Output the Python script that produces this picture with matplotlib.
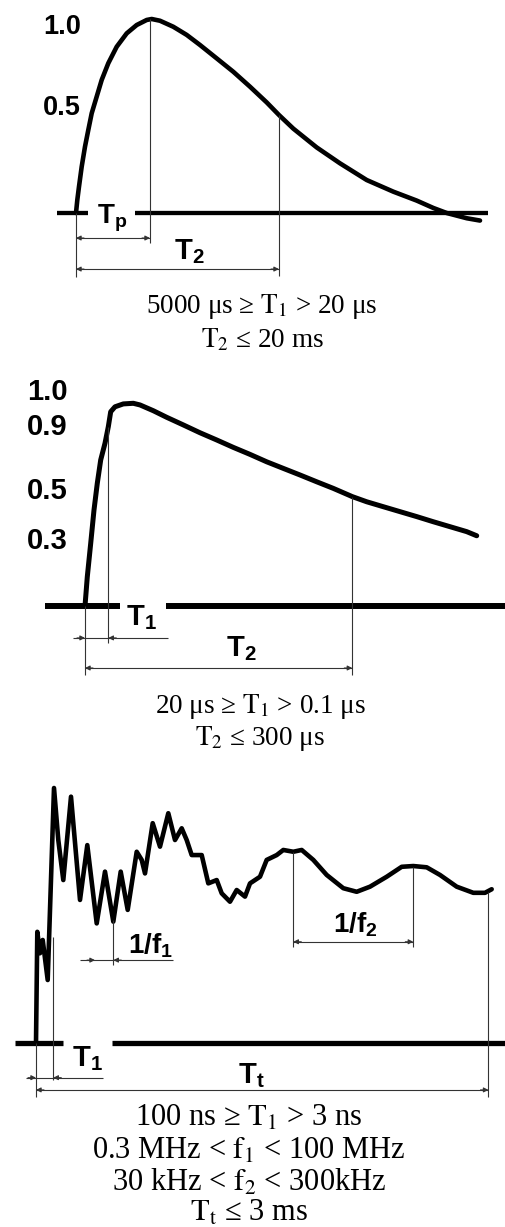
import matplotlib
matplotlib.use("Agg")
import matplotlib.pyplot as plt

plt.rcParams['mathtext.fontset'] = 'custom'
plt.rcParams['mathtext.rm'] = 'Liberation Sans:bold'
plt.rcParams['mathtext.it'] = 'Liberation Sans:bold'
plt.rcParams['mathtext.bf'] = 'Liberation Sans:bold'

# ---------------- data (time in arbitrary units, amplitude normalised) -------------
# Panel 1: double-exponential type pulse
t1 = [0, 1.3, 3, 5.7, 9, 12.3, 15.7, 20.7, 25.7, 32.3, 40.7, 50.7, 60.7, 70.7, 75.7,
      84, 97.3, 110.7, 124, 140.7, 157.3, 174, 190.7, 203, 217.3, 240.7, 264, 290.7,
      317.3, 340.7, 357.3, 370.7, 390.7, 404]
a1 = [0, 0.067, 0.136, 0.239, 0.342, 0.428, 0.514, 0.600, 0.686, 0.772, 0.857, 0.926,
      0.969, 0.995, 1.0, 0.991, 0.960, 0.918, 0.866, 0.797, 0.728, 0.651, 0.570, 0.505,
      0.435, 0.338, 0.256, 0.170, 0.110, 0.064, 0.026, 0.0, -0.027, -0.039]
labels1 = ["1.0", "0.5"]
label_levels1 = [0.96, 0.541]
Tp_1, T2_1 = 74, 203
captions1 = ["5000 μs ≥ $\\mathrm{T}_1$ > 20 μs", "$\\mathrm{T}_2$ ≤ 20 ms"]

# Panel 2: fast-rise exponential decay
t2 = [0, 2.3, 5.7, 9, 12.3, 15.7, 20, 23.3, 25.7, 30, 38.3, 48.3, 55, 68.3, 81.7, 98.3,
      115, 131.7, 148.3, 165, 181.7, 198.3, 215, 231.7, 248.3, 267.3, 281.7, 298.3, 315,
      331.7, 348.3, 365, 381.7, 391.7]
a2 = [0, 0.142, 0.304, 0.466, 0.596, 0.709, 0.790, 0.870, 0.943, 0.967, 0.981, 0.984,
      0.976, 0.948, 0.916, 0.879, 0.841, 0.806, 0.770, 0.736, 0.700, 0.668, 0.636, 0.603,
      0.571, 0.531, 0.506, 0.482, 0.458, 0.434, 0.409, 0.385, 0.361, 0.341]
labels2 = ["1.0", "0.9", "0.5", "0.3"]
label_levels2 = [1.039, 0.869, 0.558, 0.316]
T1_2, T2_2 = 23.3, 267.3
captions2 = ["20 μs ≥ $\\mathrm{T}_1$ > 0.1 μs", "$\\mathrm{T}_2$ ≤ 300 μs"]

# Panel 3: oscillatory transient
t3 = [0, 1.3, 4, 6.7, 11.7, 18, 22.3, 27.3, 35, 44, 51.3, 60.7, 69, 77.3, 84.7, 91.7,
      100.7, 105.7, 109, 116.7, 124, 132.3, 139, 145.7, 150.7, 155.7, 165.7, 172.3,
      180.7, 185.7, 194, 200.7, 209, 214, 224, 230.7, 240.7, 247.3, 257.3, 265.7, 277.3,
      290.7, 307.3, 320.7, 334, 350.7, 365.7, 377.3, 390.7, 404, 420.7, 437.3, 449, 455.7]
a3 = [0, 0.436, 0.352, 0.404, 0.247, 1.0, 0.796, 0.639, 0.966, 0.561, 0.776, 0.469,
      0.672, 0.476, 0.672, 0.522, 0.750, 0.718, 0.665, 0.862, 0.770, 0.901, 0.796, 0.842,
      0.796, 0.737, 0.737, 0.626, 0.639, 0.587, 0.554, 0.600, 0.574, 0.626, 0.652, 0.718,
      0.737, 0.757, 0.750, 0.757, 0.718, 0.659, 0.607, 0.593, 0.613, 0.652, 0.691, 0.694,
      0.689, 0.659, 0.613, 0.589, 0.589, 0.603]
T1_3, Tt_3 = 17.3, 452.5
f1_a, f1_b = 59, 77.3
f2_a, f2_b = 257.3, 377.3
captions3 = ["100 ns ≥ $\\mathrm{T}_1$ > 3 ns",
             "0.3 MHz < $\\mathrm{f}_1$ < 100 MHz",
             "30 kHz < $\\mathrm{f}_2$ < 300kHz",
             "$\\mathrm{T}_\\mathrm{t}$ ≤ 3 ms"]

# ---------------- drawing ------------------------------------------------------------
W, H = 506, 1227
fig = plt.figure(figsize=(W / 100, H / 100), dpi=100)
fig.patch.set_facecolor('white')
THIN = '#333333'
TLW = 0.8


def panel(name, x0, y0, sx, sy):
    ax = fig.add_axes([0, 0, 1, 1], facecolor='none', label=name)
    ax.set_xlim(-x0 / sx, (W - x0) / sx)
    ax.set_ylim((y0 - H) / sy, y0 / sy)
    ax.axis('off')
    return ax


def seg(ax, xs, ys, lw=TLW, color=THIN):
    ax.plot(xs, ys, color=color, lw=lw, solid_capstyle='butt')


def head(ax, tip, a, direction):
    ax.annotate('', xy=(tip, a), xytext=(tip - direction * 8, a),
                arrowprops=dict(arrowstyle='-|>', color=THIN, lw=TLW,
                                mutation_scale=7, shrinkA=0, shrinkB=0))


def label(ax, x, y, s, size=20):
    ax.text(x, y, s, ha='center', va='center', fontsize=size,
            family='Liberation Sans', fontweight='bold', math_fontfamily='custom')


def caption(lines, ys, xc, size=19.5):
    for s, y in zip(lines, ys):
        fig.text(xc / W, 1 - y / H, s, ha='center', va='baseline', fontsize=size,
                 family='Liberation Serif', math_fontfamily='stix')


# ---- Panel 1
ax = panel('p1', 76, 213, 1.0, 194.0)
seg(ax, [-19, 12], [0, 0], lw=3.1, color='black')
seg(ax, [59, 412], [0, 0], lw=3.1, color='black')
ax.plot(t1, a1, color='black', lw=3.3, solid_joinstyle='round', solid_capstyle='round')
seg(ax, [Tp_1, Tp_1], [1.0, -0.155])
seg(ax, [T2_1, T2_1], [a1[t1.index(T2_1)], -0.325])
seg(ax, [0, 0], [0, -0.33])
seg(ax, [0, Tp_1], [-0.129, -0.129])
head(ax, 0, -0.129, -1)
head(ax, Tp_1, -0.129, 1)
seg(ax, [0, T2_1], [-0.289, -0.289])
head(ax, 0, -0.289, -1)
head(ax, T2_1, -0.289, 1)
for s, lv in zip(labels1, label_levels1):
    label(ax, -14, lv, s, size=19.5)
label(ax, 36, -0.025, r"$\mathrm{T_p}$", size=20)
label(ax, 113, -0.2, r"$\mathrm{T_2}$", size=21)
caption(captions1, [313, 347], 262)

# ---- Panel 2
ax = panel('p2', 85, 606, 1.0, 206.0)
seg(ax, [-40, 35], [0, 0], lw=4.3, color='black')
seg(ax, [81, 421], [0, 0], lw=4.3, color='black')
ax.plot(t2, a2, color='black', lw=3.6, solid_joinstyle='round', solid_capstyle='round')
seg(ax, [T1_2, T1_2], [a2[t2.index(T1_2)], -0.18])
seg(ax, [0, 0], [0, -0.335])
seg(ax, [T2_2, T2_2], [a2[t2.index(T2_2)], -0.335])
seg(ax, [-12, 83], [-0.155, -0.155])
head(ax, 0, -0.155, 1)
head(ax, T1_2, -0.155, -1)
seg(ax, [0, T2_2], [-0.301, -0.301])
head(ax, 0, -0.301, -1)
head(ax, T2_2, -0.301, 1)
for s, lv in zip(labels2, label_levels2):
    label(ax, -38, lv, s, size=21)
label(ax, 56, -0.055, r"$\mathrm{T_1}$", size=21)
label(ax, 156, -0.205, r"$\mathrm{T_2}$", size=21)
caption(captions2, [713, 745], 260)

# ---- Panel 3
ax = panel('p3', 36, 1043, 1.0, 255.0)
seg(ax, [-21, 27], [0, 0], lw=3.8, color='black')
seg(ax, [76, 470], [0, 0], lw=3.8, color='black')
ax.plot(t3, a3, color='black', lw=3.3, solid_joinstyle='round', solid_capstyle='round')
seg(ax, [T1_3, T1_3], [0.416, -0.145])
seg(ax, [0, 0], [0, -0.212])
seg(ax, [Tt_3, Tt_3], [0.593, -0.212])
seg(ax, [-10, 67], [-0.136, -0.136])
head(ax, 0, -0.136, 1)
head(ax, T1_3, -0.136, -1)
seg(ax, [0, Tt_3], [-0.184, -0.184])
head(ax, 0, -0.184, -1)
head(ax, Tt_3, -0.184, 1)
# 1/f1
seg(ax, [f1_b, f1_b], [0.482, 0.306])
seg(ax, [44, 137], [0.325, 0.325])
head(ax, f1_a, 0.325, 1)
head(ax, f1_b, 0.325, -1)
# 1/f2
seg(ax, [f2_a, f2_a], [0.750, 0.378])
seg(ax, [f2_b, f2_b], [0.691, 0.378])
seg(ax, [f2_a, f2_b], [0.397, 0.397])
head(ax, f2_a, 0.397, -1)
head(ax, f2_b, 0.397, 1)
label(ax, 115, 0.38, r"$\mathrm{1/f_1}$", size=20)
label(ax, 319, 0.463, r"$\mathrm{1/f_2}$", size=20)
label(ax, 51, -0.06, r"$\mathrm{T_1}$", size=21)
label(ax, 215, -0.129, r"$\mathrm{T_t}$", size=21)
caption(captions3, [1126, 1159, 1191, 1221], 249, size=22)

fig.savefig('out.png', dpi=100, facecolor='white')
